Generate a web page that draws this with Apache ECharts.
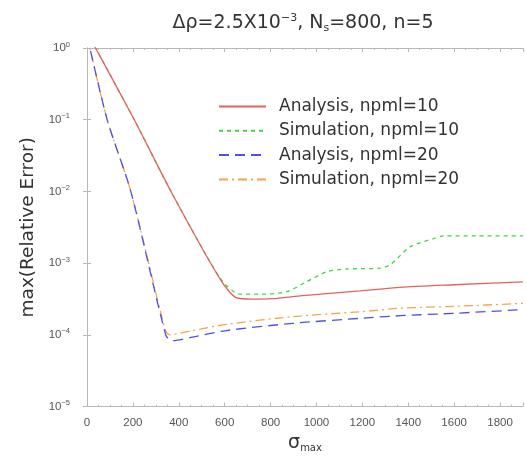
<!DOCTYPE html>
<html>
<head>
<meta charset="utf-8">
<script src="https://cdn.jsdelivr.net/npm/echarts@6/dist/echarts.min.js"></script>
<style>
html,body{margin:0;padding:0;background:#fff;}
#main{width:526px;height:458px;}
</style>
</head>
<body>
<div id="main"></div>
<script>
// ---- data ----
const seriesNames = ['Analysis, npml=10', 'Simulation, npml=10', 'Analysis, npml=20', 'Simulation, npml=20'];

const sigmaA10 = [0, 206, 366, 580, 650, 720, 811, 928, 1190, 1365, 1600, 1900];
const errA10   = [1.66, 0.1, 0.01, 6.0e-4, 3.3e-4, 3.15e-4, 3.2e-4, 3.5e-4, 4.1e-4, 4.6e-4, 5.0e-4, 5.5e-4];

const sigmaS10 = [0, 206, 366, 580, 665, 760, 870, 957, 1045, 1132, 1278, 1322, 1409, 1510, 1554, 1700, 1900];
const errS10   = [1.66, 0.1, 0.01, 6.2e-4, 3.7e-4, 3.7e-4, 4.0e-4, 5.5e-4, 7.6e-4, 8.3e-4, 8.5e-4, 9.5e-4, 1.7e-3, 2.2e-3, 2.4e-3, 2.4e-3, 2.4e-3];

const sigmaA20 = [0, 88, 191, 344, 373, 460, 607, 898, 1190, 1365, 1600, 1900];
const errA20   = [1.5, 0.1, 0.01, 9.8e-5, 8.3e-5, 9.3e-5, 1.15e-4, 1.45e-4, 1.7e-4, 1.85e-4, 2.0e-4, 2.25e-4];

const sigmaS20 = [0, 88, 191, 340, 359, 460, 607, 898, 1190, 1365, 1600, 1900];
const errS20   = [1.5, 0.1, 0.01, 1.2e-4, 1.0e-4, 1.15e-4, 1.4e-4, 1.8e-4, 2.1e-4, 2.35e-4, 2.5e-4, 2.75e-4];

const xTicks = [0, 200, 400, 600, 800, 1000, 1200, 1400, 1600, 1800];
const yExponents = [0, -1, -2, -3, -4, -5];

function pairs(xs, ys){ return xs.map((x,i)=>[x, ys[i]]); }

const colors = ['#e46262', '#44d444', '#5050e6', '#f2a64a'];
const dashes = ['solid', [4,4], [10,6], [9,4,2,4]];

const chart = echarts.init(document.getElementById('main'), null, {renderer:'canvas'});
const FONT = '"Liberation Sans", Arial, Helvetica, sans-serif';
const WFONT = '"DejaVu Sans", "Liberation Sans", sans-serif';
const axisColor = '#b8b8b8';

const dataSets = [pairs(sigmaA10, errA10), pairs(sigmaS10, errS10), pairs(sigmaA20, errA20), pairs(sigmaS20, errS20)];

const option = {
  animation:false,
  backgroundColor:'#fff',
  textStyle:{fontFamily:FONT},
  title:{
    text:'{t|Δρ=2.5X10}{sup|−3}{t|, N}{sub|s}{t|=800, n=5}',
    left:298, top:8, textAlign:'center',
    textStyle:{
      fontWeight:'normal',
      rich:{
        t:{fontSize:19, color:'#333', fontFamily:WFONT, fontWeight:'normal'},
        sup:{fontSize:11, color:'#333', fontFamily:WFONT, padding:[0,0,10,0]},
        sub:{fontSize:11, color:'#333', fontFamily:WFONT, padding:[9,0,0,0]}
      }
    }
  },
  legend:{
    orient:'vertical', left:218, top:98, padding:0,
    itemWidth:47, itemHeight:14, itemGap:7.3,
    itemStyle:{opacity:0},
    textStyle:{fontSize:17, color:'#333', fontFamily:WFONT, padding:[0,0,0,8]},
    data:seriesNames
  },
  grid:{left:87, right:2, top:48, bottom:46, containLabel:false},
  xAxis:[{
    type:'value', min:0, max:1900, interval:200,
    position:'bottom',
    axisLine:{show:true, lineStyle:{color:axisColor}},
    axisTick:{show:true, inside:true, length:4, lineStyle:{color:axisColor}},
    minorTick:{show:true, splitNumber:4, length:2, lineStyle:{color:axisColor}},
    splitLine:{show:false},
    axisLabel:{
      fontSize:11.5, color:'#555', margin:10, fontFamily:FONT,
      formatter:v=> xTicks.indexOf(v) >= 0 ? String(v) : ''
    },
    name:'{s|σ}{sub|max}', nameLocation:'middle', nameGap:23,
    nameTextStyle:{rich:{
      s:{fontSize:19, color:'#333', fontFamily:WFONT},
      sub:{fontSize:10, color:'#333', fontFamily:WFONT, padding:[10,0,0,0]}
    }}
  },{
    type:'value', min:0, max:1900, interval:200,
    position:'top',
    axisLine:{show:true, lineStyle:{color:axisColor}},
    axisTick:{show:true, inside:true, length:4, lineStyle:{color:axisColor}},
    minorTick:{show:true, splitNumber:4, length:2, lineStyle:{color:axisColor}},
    splitLine:{show:false},
    axisLabel:{show:false}
  }],
  yAxis:[{
    type:'log', logBase:10, min:1e-5, max:1,
    position:'left',
    axisLine:{show:true, lineStyle:{color:axisColor}},
    axisTick:{show:true, inside:true, length:4, lineStyle:{color:axisColor}},
    splitLine:{show:false},
    axisLabel:{
      margin:17,
      formatter:v=>{
        const e = Math.round(Math.log10(v));
        if (yExponents.indexOf(e) < 0) return '';
        return '{b|10}{s|' + (e===0 ? '0' : '−' + (-e)) + '}';
      },
      rich:{
        b:{fontSize:11.5, color:'#555', fontFamily:FONT},
        s:{fontSize:7.5, color:'#555', fontFamily:FONT, padding:[0,0,7,0]}
      }
    },
    name:'max(Relative Error)', nameLocation:'middle', nameGap:46, nameRotate:90,
    nameTextStyle:{fontSize:18.5, color:'#333', fontFamily:WFONT}
  },{
    type:'log', logBase:10, min:1e-5, max:1,
    position:'right',
    axisLine:{show:true, lineStyle:{color:axisColor}},
    axisTick:{show:true, inside:true, length:4, lineStyle:{color:axisColor}},
    splitLine:{show:false},
    axisLabel:{show:false}
  }],
  series: seriesNames.map((n,i)=>({
    name:n, type:'line', xAxisIndex:0, yAxisIndex:0,
    data:dataSets[i], symbol:'none', smooth:0.25, clip:true,
    color:colors[i],
    lineStyle:{color:colors[i], width:1.3, type:dashes[i]},
    z: 10 - i
  }))
};
chart.setOption(option);
</script>
</body>
</html>
